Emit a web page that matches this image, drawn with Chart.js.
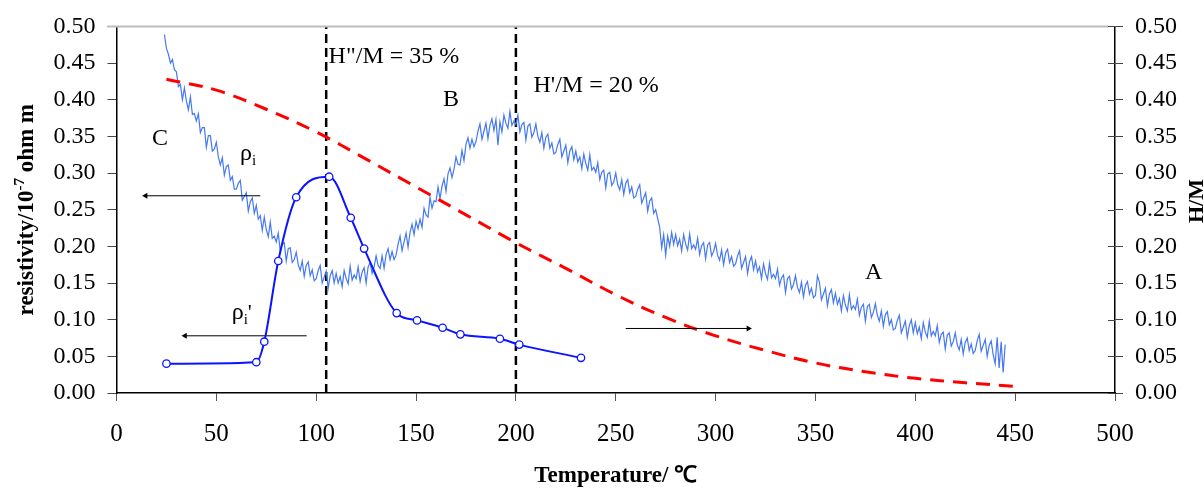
<!DOCTYPE html>
<html>
<head>
<meta charset="utf-8">
<script src="https://cdn.jsdelivr.net/npm/chart.js@4.4.1/dist/chart.umd.min.js"></script>
<style>
html, body { margin: 0; padding: 0; background: #fff; }
#wrap { width: 1204px; height: 488px; }
</style>
</head>
<body>
<div id="wrap"><canvas id="chart"></canvas></div>
<script>
// rho_i trace, one reading per degree from 24 C
var rhoStartT = 24;
var rhoValues = [
    0.489, 0.470, 0.462, 0.450, 0.455, 0.441,
    0.438, 0.418, 0.421, 0.400, 0.416, 0.398, 0.386, 0.404, 0.380, 0.381,
    0.371, 0.381, 0.355, 0.362, 0.362, 0.335, 0.351, 0.351, 0.330, 0.333,
    0.342, 0.322, 0.311, 0.321, 0.297, 0.309, 0.311, 0.290, 0.295, 0.278,
    0.278, 0.286, 0.290, 0.263, 0.268, 0.273, 0.248, 0.261, 0.266, 0.245,
    0.256, 0.237, 0.242, 0.222, 0.240, 0.223, 0.213, 0.233, 0.211, 0.214,
    0.206, 0.218, 0.194, 0.203, 0.205, 0.180, 0.197, 0.198, 0.178, 0.182,
    0.192, 0.175, 0.167, 0.180, 0.159, 0.174, 0.179, 0.160, 0.168, 0.153,
    0.156, 0.167, 0.174, 0.150, 0.158, 0.166, 0.143, 0.160, 0.167, 0.150,
    0.163, 0.150, 0.159, 0.145, 0.167, 0.156, 0.149, 0.173, 0.154, 0.161,
    0.156, 0.172, 0.152, 0.165, 0.171, 0.150, 0.172, 0.178, 0.163, 0.172,
    0.187, 0.174, 0.170, 0.187, 0.170, 0.189, 0.197, 0.182, 0.193, 0.182,
    0.188, 0.203, 0.214, 0.194, 0.206, 0.218, 0.199, 0.219, 0.230, 0.216,
    0.234, 0.224, 0.237, 0.226, 0.252, 0.243, 0.240, 0.267, 0.252, 0.262,
    0.261, 0.281, 0.265, 0.282, 0.292, 0.275, 0.299, 0.307, 0.294, 0.305,
    0.322, 0.312, 0.311, 0.331, 0.317, 0.339, 0.348, 0.334, 0.346, 0.336,
    0.343, 0.357, 0.367, 0.346, 0.357, 0.368, 0.347, 0.365, 0.374, 0.358,
    0.373, 0.338, 0.370, 0.356, 0.379, 0.368, 0.361, 0.384, 0.365, 0.371,
    0.366, 0.379, 0.356, 0.366, 0.369, 0.345, 0.364, 0.367, 0.349, 0.355,
    0.367, 0.350, 0.342, 0.355, 0.334, 0.349, 0.353, 0.334, 0.341, 0.326,
    0.328, 0.339, 0.346, 0.322, 0.330, 0.338, 0.314, 0.330, 0.336, 0.318,
    0.330, 0.315, 0.322, 0.306, 0.326, 0.313, 0.304, 0.325, 0.304, 0.308,
    0.301, 0.314, 0.291, 0.301, 0.304, 0.280, 0.299, 0.301, 0.283, 0.288,
    0.300, 0.284, 0.277, 0.291, 0.271, 0.286, 0.291, 0.273, 0.281, 0.266,
    0.268, 0.278, 0.284, 0.259, 0.266, 0.273, 0.248, 0.262, 0.266, 0.245,
    0.250, 0.238, 0.226, 0.198, 0.216, 0.188, 0.214, 0.200, 0.219, 0.203,
    0.216, 0.201, 0.210, 0.194, 0.216, 0.203, 0.195, 0.217, 0.197, 0.202,
    0.196, 0.211, 0.189, 0.201, 0.205, 0.183, 0.202, 0.205, 0.187, 0.193,
    0.204, 0.188, 0.181, 0.195, 0.175, 0.191, 0.196, 0.178, 0.186, 0.173,
    0.176, 0.187, 0.194, 0.170, 0.178, 0.186, 0.163, 0.179, 0.186, 0.168,
    0.180, 0.165, 0.172, 0.156, 0.176, 0.163, 0.155, 0.177, 0.157, 0.162,
    0.156, 0.169, 0.147, 0.157, 0.161, 0.137, 0.156, 0.159, 0.142, 0.148,
    0.160, 0.144, 0.137, 0.151, 0.131, 0.147, 0.152, 0.135, 0.143, 0.130,
    0.133, 0.160, 0.151, 0.127, 0.135, 0.143, 0.119, 0.135, 0.141, 0.123,
    0.136, 0.121, 0.129, 0.112, 0.133, 0.120, 0.112, 0.134, 0.114, 0.119,
    0.114, 0.128, 0.106, 0.117, 0.121, 0.098, 0.118, 0.121, 0.103, 0.110,
    0.122, 0.106, 0.098, 0.112, 0.091, 0.107, 0.111, 0.093, 0.100, 0.086,
    0.088, 0.099, 0.106, 0.082, 0.090, 0.098, 0.076, 0.092, 0.100, 0.082,
    0.096, 0.081, 0.090, 0.074, 0.096, 0.083, 0.076, 0.098, 0.078, 0.084,
    0.078, 0.092, 0.069, 0.080, 0.083, 0.060, 0.079, 0.082, 0.064, 0.070,
    0.082, 0.066, 0.059, 0.073, 0.053, 0.069, 0.075, 0.058, 0.067, 0.054,
    0.058, 0.071, 0.080, 0.057, 0.065, 0.073, 0.050, 0.065, 0.071, 0.052,
    0.040, 0.076, 0.034, 0.070, 0.028, 0.066
];

// rho_i' measured points
var rhoPrimeT = [25, 70, 74, 81, 90, 106.5, 117.3, 124, 140.3, 150.5, 163.3, 172.2, 192, 201.7, 232.6];
var rhoPrimeValues = [0.040, 0.042, 0.070, 0.180, 0.267, 0.295, 0.239, 0.197, 0.109, 0.099, 0.089, 0.080, 0.074, 0.066, 0.048];

// H/M (right axis)
var hmT = [25, 50, 75, 100, 125, 150, 175, 200, 225, 250, 275, 300, 325, 350, 375, 400, 425, 450];
var hmValues = [0.428, 0.413, 0.387, 0.356, 0.319, 0.281, 0.243, 0.205, 0.170, 0.134, 0.103, 0.078, 0.058, 0.041, 0.029, 0.020, 0.014, 0.009];

// dashed markers at H"/M = 35 % and H'/M = 20 %
var markerT = [105, 200];

// arrows: [from T, to T, level]
var arrows = [
    [72, 14.6, 0.269],
    [95.2, 34.3, 0.078],
    [255, 316.4, 0.088]
];

var labels = [
    { parts: [['C', 24, 0]], t: 17.8, v: 0.338 },
    { parts: [['ρ', 24, 0], ['i', 15, 5]], t: 61.8, v: 0.318 },
    { parts: [['ρ', 24, 0], ['i', 15, 5], ["'", 22, 0]], t: 57.7, v: 0.101 },
    { parts: [['H"/M = 35 %', 24, 0]], t: 106.2, v: 0.450 },
    { parts: [["H'/M = 20 %", 24, 0]], t: 208.8, v: 0.411 },
    { parts: [['B', 24, 0]], t: 163.5, v: 0.391 },
    { parts: [['A', 24, 0]], t: 374.8, v: 0.155 }
];

var serif = "'Liberation Serif', 'Times New Roman', serif";

function pairs(xs, ys) {
    return xs.map(function(x, i) { return { x: x, y: ys[i] }; });
}

var datasets = [
    {
        data: pairs(rhoPrimeT, rhoPrimeValues),
        borderColor: '#0a14ff',
        borderWidth: 2,
        cubicInterpolationMode: 'monotone',
        pointRadius: 3.7,
        pointBorderWidth: 1.3,
        pointBackgroundColor: '#fff',
        pointBorderColor: '#0a14ff',
        yAxisID: 'y',
        order: 0
    },
    {
        data: pairs(hmT, hmValues),
        borderColor: '#ff0000',
        borderWidth: 3,
        borderDash: [14, 9],
        tension: 0.4,
        pointRadius: 0,
        yAxisID: 'y2',
        order: 1
    },
    {
        data: rhoValues.map(function(v, i) { return { x: rhoStartT + i, y: v }; }),
        borderColor: '#4578f2',
        borderWidth: 1.2,
        tension: 0,
        pointRadius: 0,
        yAxisID: 'y',
        order: 2
    }
];

markerT.forEach(function(t) {
    datasets.push({
        data: [{ x: t, y: 0 }, { x: t, y: 0.5 }],
        borderColor: '#000',
        borderWidth: 2.5,
        borderDash: [9, 5],
        pointRadius: 0,
        yAxisID: 'y',
        order: 3
    });
});

arrows.forEach(function(a) {
    datasets.push({
        data: [{ x: a[0], y: a[2] }, { x: a[1], y: a[2] }],
        borderColor: '#000',
        borderWidth: 1,
        pointStyle: 'triangle',
        pointRadius: [0, 3.5],
        pointRotation: a[1] < a[0] ? -90 : 90,
        pointBackgroundColor: '#000',
        pointBorderColor: '#000',
        pointBorderWidth: 0,
        yAxisID: 'y',
        order: 0
    });
});

var extras = {
    id: 'extras',
    afterDraw: function(chart) {
        var ctx = chart.ctx;
        var area = chart.chartArea;
        var xs = chart.scales.x;
        var ys = chart.scales.y;
        var y2 = chart.scales.y2;
        ctx.save();

        // top frame line
        ctx.strokeStyle = '#bdbdbd';
        ctx.lineWidth = 2;
        ctx.beginPath();
        ctx.moveTo(area.left - 9, area.top);
        ctx.lineTo(area.right - 7, area.top);
        ctx.stroke();

        // right axis ticks cross the axis
        ctx.strokeStyle = '#444';
        ctx.lineWidth = 1;
        y2.ticks.forEach(function(t, i) {
            var p = Math.round(y2.getPixelForTick(i)) + 0.5;
            ctx.beginPath();
            ctx.moveTo(area.right - 7, p);
            ctx.lineTo(area.right, p);
            ctx.stroke();
        });

        // text labels in the plot
        ctx.fillStyle = '#000';
        ctx.textBaseline = 'alphabetic';
        ctx.textAlign = 'left';
        labels.forEach(function(l) {
            var px = xs.getPixelForValue(l.t);
            var py = ys.getPixelForValue(l.v);
            l.parts.forEach(function(p) {
                ctx.font = p[1] + 'px ' + serif;
                ctx.fillText(p[0], px, py + p[2]);
                px += ctx.measureText(p[0]).width;
            });
        });

        // left axis title with superscript
        var parts = [['resistivity/10', 23, 0], ['-7', 15, -9], [' ohm m', 23, 0]];
        var total = 0;
        parts.forEach(function(p) {
            ctx.font = 'bold ' + p[1] + 'px ' + serif;
            total += ctx.measureText(p[0]).width;
        });
        ctx.save();
        ctx.translate(33, (area.top + area.bottom) / 2);
        ctx.rotate(-Math.PI / 2);
        var x = -total / 2;
        parts.forEach(function(p) {
            ctx.font = 'bold ' + p[1] + 'px ' + serif;
            ctx.fillText(p[0], x, p[2]);
            x += ctx.measureText(p[0]).width;
        });
        ctx.restore();

        // right axis title
        ctx.save();
        ctx.translate(1203, 201);
        ctx.rotate(-Math.PI / 2);
        ctx.font = 'bold 22px ' + serif;
        ctx.textAlign = 'center';
        ctx.fillText('H/M', 0, 0);
        ctx.restore();

        ctx.restore();
    }
};

var yTicks = {
    stepSize: 0.05,
    autoSkip: false,
    color: '#000',
    padding: 12,
    font: { family: serif, size: 24 },
    callback: function(v) { return v.toFixed(2); }
};

new Chart(document.getElementById('chart'), {
    type: 'line',
    data: { datasets: datasets },
    plugins: [extras],
    options: {
        responsive: true,
        maintainAspectRatio: false,
        animation: false,
        layout: { padding: { top: 22, left: 0, right: 0, bottom: 0 } },
        plugins: {
            legend: { display: false },
            tooltip: { enabled: false }
        },
        scales: {
            x: {
                type: 'linear',
                min: 0,
                max: 500,
                ticks: {
                    stepSize: 50,
                    color: '#000',
                    padding: 18,
                    maxRotation: 0,
                    font: { family: serif, size: 25 }
                },
                grid: { drawOnChartArea: false, tickLength: 8, color: '#555' },
                border: { color: '#000', width: 1.5 },
                title: {
                    display: true,
                    text: 'Temperature/ ℃',
                    color: '#000',
                    padding: { top: 0, bottom: 0 },
                    font: { family: serif, size: 23, weight: 'bold', lineHeight: 1 }
                },
                afterFit: function(s) { s.height = 95; }
            },
            y: {
                position: 'left',
                min: 0,
                max: 0.5,
                ticks: yTicks,
                grid: { drawOnChartArea: false, tickLength: 9, color: '#444' },
                border: { color: '#000', width: 1.5 },
                afterFit: function(s) { s.width = 116.5; }
            },
            y2: {
                position: 'right',
                min: 0,
                max: 0.5,
                ticks: yTicks,
                grid: { drawOnChartArea: false, tickLength: 8, color: '#444' },
                border: { color: '#000', width: 1.5 },
                afterFit: function(s) { s.width = 89; }
            }
        }
    }
});
</script>
</body>
</html>
